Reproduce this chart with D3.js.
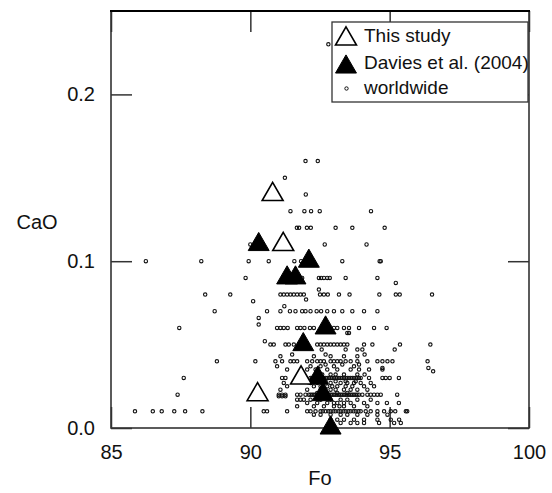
<!DOCTYPE html>
<html>
<head>
<meta charset="utf-8">
<script src="https://cdn.jsdelivr.net/npm/d3@7"></script>
<style>
  body { margin: 0; background: #fff; }
  text { font-family: "Liberation Sans", Arial, sans-serif; }
</style>
</head>
<body>
<svg id="chart" width="552" height="493"></svg>
<script>
// "This study" (open triangles)
var thisStudy = [[90.8, 0.14], [91.18, 0.11], [91.82, 0.03], [90.26, 0.02]];
// Davies et al. (2004) (filled triangles)
var davies = [[90.30, 0.11], [92.1, 0.10], [91.32, 0.09], [91.62, 0.09], [92.70, 0.06],
              [91.9, 0.05], [92.42, 0.03], [92.6, 0.02], [92.88, 0.00]];
// worldwide olivines, grouped by CaO level: [CaO, [Fo...]]
var worldRows = [
  [0.23, [92.8]],
  [0.16, [91.98, 92.42]],
  [0.15, [91.24]],
  [0.14, [91.99]],
  [0.13, [91.44, 91.94, 92.18, 92.49, 94.33]],
  [0.12, [91.67, 91.75, 92.03, 92.17, 93.06, 93.66, 94.82]],
  [0.11, [90.0, 92.67, 94.17]],
  [0.10, [86.25, 88.24, 89.94, 90.66, 91.58, 91.82, 93.3, 94.64, 94.68]],
  [0.09, [89.83, 91.86, 92.46, 92.54, 92.64, 92.76, 92.85, 93.42, 94.56]],
  [0.087, [95.22]],
  [0.083, [92.46]],
  [0.08, [88.38, 89.28, 91.08, 91.20, 91.32, 91.44, 91.56, 91.68, 91.80, 91.92, 92.50, 92.64,
          92.78, 93.18, 93.56, 94.63, 95.22, 95.36, 96.52]],
  [0.077, [92.0]],
  [0.076, [90.1]],
  [0.073, [91.22]],
  [0.07, [88.72, 90.6, 91.08, 91.42, 91.62, 91.86, 91.98, 92.16, 92.38, 92.54, 92.76, 93.0,
          93.3, 93.66, 94.08, 94.56]],
  [0.066, [90.3]],
  [0.062, [90.3]],
  [0.06, [87.45, 90.96, 91.08, 91.2, 91.34, 91.68, 91.8, 91.94, 92.14, 92.28, 93.0, 93.12,
          93.36, 93.54, 93.9, 94.44, 94.89]],
  [0.057, [93.48, 93.54]],
  [0.052, [90.52]],
  [0.05, [90.72, 90.84, 91.26, 91.38, 91.56, 92.4, 92.52, 92.64, 92.76, 92.88, 93.0, 93.12,
          93.24, 93.36, 93.48, 94.08, 94.38, 95.37, 96.46]],
  [0.047, [92.56, 93.42, 93.84, 94.02, 95.18]],
  [0.044, [91.5, 92.7, 94.1]],
  [0.043, [91.08, 92.28, 92.88, 93.36, 93.84]],
  [0.04, [88.8, 90.18, 90.9, 91.14, 91.44, 91.56, 91.68, 92.04, 92.22, 92.4, 92.52, 92.64,
          92.88, 93.0, 93.12, 93.24, 93.42, 93.6, 93.84, 94.2, 94.56, 94.74, 94.92, 95.1, 96.36]],
  [0.038, [92.7, 93.3, 93.9]],
  [0.037, [90.96, 92.16, 92.52, 93.0, 93.72]],
  [0.036, [94.74, 96.39]],
  [0.035, [91.32, 92.04, 92.34, 92.76, 93.12, 93.6, 93.9, 94.26, 94.74]],
  [0.034, [96.56]],
  [0.032, [92.4, 92.58, 92.88, 93.06, 93.36, 93.84, 94.1]],
  [0.03, [87.61, 91.14, 91.26, 92.16, 92.22, 92.28, 92.34, 92.4, 92.52, 92.58, 92.64, 92.7,
          92.76, 92.82, 92.88, 92.94, 93.0, 93.06, 93.12, 93.18, 93.24, 93.3, 93.36, 93.42,
          93.48, 93.54, 93.6, 93.66, 93.72, 93.78, 93.84, 93.9, 93.96, 94.26, 94.74, 94.86,
          95.0, 95.33]],
  [0.028, [92.34, 92.7, 93.06, 93.42, 93.78]],
  [0.027, [91.2, 92.16, 92.4, 92.64, 92.88, 93.24, 93.48, 93.72, 93.96, 94.32]],
  [0.025, [91.32, 92.28, 92.52, 92.76, 92.94, 93.12, 93.42, 93.66, 94.08, 94.44]],
  [0.023, [91.08, 92.04, 92.52, 92.7, 92.88, 93.06, 93.36, 93.6, 93.84, 94.2]],
  [0.021, [92.4, 92.76, 93.12, 93.48]],
  [0.02, [87.39, 91.02, 91.14, 91.26, 91.68, 91.8, 91.98, 92.1, 92.16, 92.22, 92.28, 92.34,
          92.4, 92.46, 92.52, 92.58, 92.64, 92.7, 92.76, 92.82, 92.88, 92.94, 93.0, 93.06,
          93.12, 93.18, 93.24, 93.3, 93.36, 93.42, 93.48, 93.54, 93.6, 93.66, 93.72, 93.78,
          93.84, 93.9, 94.02, 94.2, 94.32, 94.44, 94.56, 94.68, 95.27]],
  [0.019, [91.02, 91.14, 91.26]],
  [0.017, [91.68, 91.8, 91.92, 92.16, 92.52, 92.88, 93.24, 93.48, 93.84, 94.32]],
  [0.015, [92.04, 92.4, 92.76, 93.0, 93.12, 93.36, 93.6, 94.08, 94.56, 94.9, 95.33]],
  [0.013, [91.68, 92.28, 92.64, 93.0, 93.2, 93.36, 93.72, 94.2]],
  [0.01, [85.86, 86.50, 86.82, 87.27, 87.66, 88.28, 90.48, 90.6, 91.32, 92.04, 92.16, 92.34,
          92.52, 92.6, 92.7, 92.8, 92.88, 92.98, 93.06, 93.16, 93.24, 93.34, 93.42, 93.52,
          93.6, 93.7, 93.78, 93.88, 93.96, 94.14, 94.32, 94.56, 94.8, 95.04, 95.2, 95.58, 95.63]],
  [0.008, [92.28, 92.52, 92.88, 93.24, 93.48, 93.84, 94.2, 94.56, 94.92]],
  [0.005, [92.88, 93.12, 93.36, 93.72, 94.08, 94.56, 95.04, 95.34]],
  [0.003, [93.24, 93.6, 93.84, 94.08, 94.62, 95.16, 95.4]]
];
var xTicks = [85, 90, 95, 100];
var yTicks = [0, 0.1, 0.2];

var worldwide = [];
worldRows.forEach(function(r){
    r[1].forEach(function(f){ worldwide.push([f, r[0]]); });
});

var svg = d3.select("#chart");
var x = d3.scaleLinear().domain([85, 100]).range([111, 529]);
var y = d3.scaleLinear().domain([0, 0.25]).range([428, 11]);
var tick = 21;

// axes with inward ticks on all four sides
var gb = svg.append("g").attr("transform", "translate(0,428)")
    .call(d3.axisBottom(x).tickValues(xTicks).tickSize(-tick).tickPadding(17).tickFormat(d3.format("d")));
var gl = svg.append("g").attr("transform", "translate(111,0)")
    .call(d3.axisLeft(y).tickValues(yTicks).tickSize(-tick).tickPadding(16).tickFormat(d3.format(".1f")));
var gt = svg.append("g").attr("transform", "translate(0,11)")
    .call(d3.axisTop(x).tickValues(xTicks).tickSize(-tick).tickFormat(""));
var gr = svg.append("g").attr("transform", "translate(529,0)")
    .call(d3.axisRight(y).tickValues(yTicks).tickSize(-tick).tickFormat(""));
[gb, gl, gt, gr].forEach(function(g){
    g.select(".domain").remove();
    g.selectAll("line").attr("stroke", "#333").attr("stroke-width", 1.5);
    g.selectAll("text").attr("font-size", 20).attr("fill", "#111")
        .style("font-family", "'Liberation Sans', Arial, sans-serif");
});

// frame
svg.append("rect").attr("x", 111).attr("y", 11).attr("width", 418).attr("height", 417)
    .attr("fill", "none").attr("stroke", "#333").attr("stroke-width", 1.6);
svg.append("line").attr("x1", 110).attr("x2", 530).attr("y1", 11).attr("y2", 11)
    .attr("stroke", "#000").attr("stroke-width", 2.2);

// axis titles
svg.append("text").attr("x", 37).attr("y", 229).attr("text-anchor", "middle")
    .attr("font-size", 20).attr("fill", "#111").text("CaO");
svg.append("text").attr("x", 320).attr("y", 485).attr("text-anchor", "middle")
    .attr("font-size", 20).attr("fill", "#111").text("Fo");

// worldwide
svg.append("g").selectAll("circle").data(worldwide).enter().append("circle")
    .attr("cx", function(d){ return x(d[0]); })
    .attr("cy", function(d){ return y(d[1]); })
    .attr("r", 1.7)
    .attr("fill", "none").attr("stroke", "#111").attr("stroke-width", 1.1);

var tri = d3.symbol().type(d3.symbolTriangle).size(190);
svg.append("g").selectAll("path").data(davies).enter().append("path")
    .attr("d", tri)
    .attr("transform", function(d){ return "translate(" + x(d[0]) + "," + y(d[1]) + ")"; })
    .attr("fill", "#000").attr("stroke", "#000").attr("stroke-width", 1);
svg.append("g").selectAll("path").data(thisStudy).enter().append("path")
    .attr("d", tri)
    .attr("transform", function(d){ return "translate(" + x(d[0]) + "," + y(d[1]) + ")"; })
    .attr("fill", "#fff").attr("stroke", "#000").attr("stroke-width", 1.6);

// legend
var lg = svg.append("g");
svg.append("clipPath").attr("id", "lgclip").append("rect")
    .attr("x", 332).attr("y", 22).attr("width", 196).attr("height", 80);
lg.append("rect").attr("x", 332).attr("y", 22).attr("width", 196).attr("height", 80)
    .attr("fill", "#fff").attr("stroke", "#333").attr("stroke-width", 1.3);
lg.append("path").attr("d", tri).attr("transform", "translate(346,39)")
    .attr("fill", "#fff").attr("stroke", "#000").attr("stroke-width", 1.6);
lg.append("path").attr("d", tri).attr("transform", "translate(346,67)")
    .attr("fill", "#000").attr("stroke", "#000");
lg.append("circle").attr("cx", 346.5).attr("cy", 88.5).attr("r", 1.7)
    .attr("fill", "none").attr("stroke", "#111");
var labels = [["This study", 42], ["Davies et al. (2004)", 69], ["worldwide", 94]];
lg.append("g").attr("clip-path", "url(#lgclip)").selectAll("text").data(labels).enter().append("text")
    .attr("x", 364).attr("y", function(d){ return d[1]; })
    .attr("font-size", 19).attr("fill", "#111")
    .text(function(d){ return d[0]; });
</script>
</body>
</html>
